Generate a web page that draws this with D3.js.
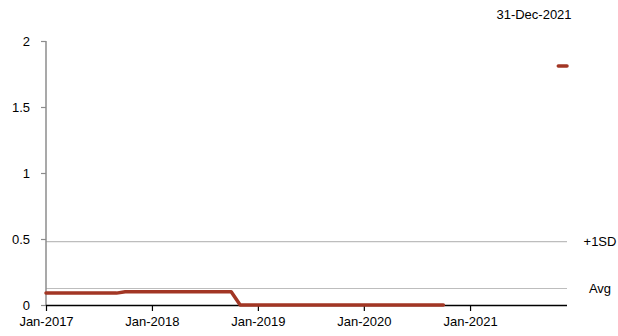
<!DOCTYPE html>
<html><head><meta charset="utf-8">
<script src="https://cdn.jsdelivr.net/npm/d3@7"></script>
<style>
html,body{margin:0;padding:0;background:#fff;}
text{font-family:"Liberation Sans",Arial,sans-serif;font-size:13px;fill:#000;}
</style></head>
<body><svg id="c" width="618" height="336"></svg>
<script>
// Data
const months = d3.timeMonths(new Date(2017,0,1), new Date(2022,0,1)); // Jan-2017..Dec-2021
const seriesValues = [
  0.09,0.09,0.09,0.09,0.09,0.09,0.09,0.09,0.09,          // Jan-Sep 2017
  0.10,0.10,0.10,0.10,0.10,0.10,0.10,0.10,0.10,0.10,0.10,0.10,0.10, // Oct-2017..Oct-2018
  0,0,0,0,0,0,0,0,0,0,0,0,0,0,0,0,0,0,0,0,0,0,0,0,     // Nov-2018..Oct-2020
  null,null,null,null,null,null,null,null,null,null,null,null, // Nov-2020..Oct-2021
  1.81,1.81                                              // Nov-2021, Dec-2021
];
const refLines = [{label:"+1SD", value:0.48},{label:"Avg", value:0.125}];
const yTicks = [0,0.5,1,1.5,2];
const xTickDates = [2017,2018,2019,2020,2021].map(y=>new Date(y,0,1));
const dateLabel = "31-Dec-2021";

const svg = d3.select("#c");
const x = d3.scaleTime().domain([new Date(2017,0,1), new Date(2021,11,1)]).range([46,567]);
const y = d3.scaleLinear().domain([0,2]).range([305,41]);

// reference lines
svg.selectAll(".ref").data(refLines).enter().append("line")
  .attr("x1",46).attr("x2",567)
  .attr("y1",d=>y(d.value)).attr("y2",d=>y(d.value))
  .attr("stroke","#bdbdbd").attr("stroke-width",1.2);
svg.selectAll(".reflab").data(refLines).enter().append("text")
  .attr("x",600).attr("y",d=>y(d.value)).attr("dy","0.35em")
  .attr("text-anchor","middle").text(d=>d.label);

// y axis
const ya = svg.append("g").attr("transform","translate(46,0)")
  .call(d3.axisLeft(y).tickValues(yTicks).tickSize(5).tickPadding(11).tickFormat(d3.format("")));
ya.select(".domain").attr("stroke","#8c8c8c").attr("stroke-width",1.5).attr("d","M0,41V305");
ya.selectAll(".tick line").attr("stroke","#8c8c8c").attr("stroke-width",1.2);
ya.selectAll(".tick text").style("font-family","Liberation Sans, Arial, sans-serif").style("font-size","13px").attr("fill","#000");

// x axis
const xa = svg.append("g").attr("transform","translate(0,305)")
  .call(d3.axisBottom(x).tickValues(xTickDates).tickSize(6).tickPadding(6).tickFormat(d3.timeFormat("%b-%Y")));
xa.select(".domain").attr("stroke","#000").attr("stroke-width",1.5).attr("d","M46,0.5H567");
xa.selectAll(".tick line").attr("stroke","#000").attr("stroke-width",1.2);
xa.selectAll(".tick text").style("font-family","Liberation Sans, Arial, sans-serif").style("font-size","13px").attr("fill","#000");

// series line
const pts = months.map((m,i)=>({date:m, value:seriesValues[i]}));
const line = d3.line().defined(d=>d.value!==null).x(d=>x(d.date)).y(d=>y(d.value));
svg.append("path").datum(pts).attr("d",line)
  .attr("fill","none").attr("stroke","#a23624").attr("stroke-width",3.5)
  .attr("stroke-linecap","round").attr("stroke-linejoin","round");

// date label
svg.append("text").attr("x",534).attr("y",19).attr("text-anchor","middle").text(dateLabel);
</script></body></html>
